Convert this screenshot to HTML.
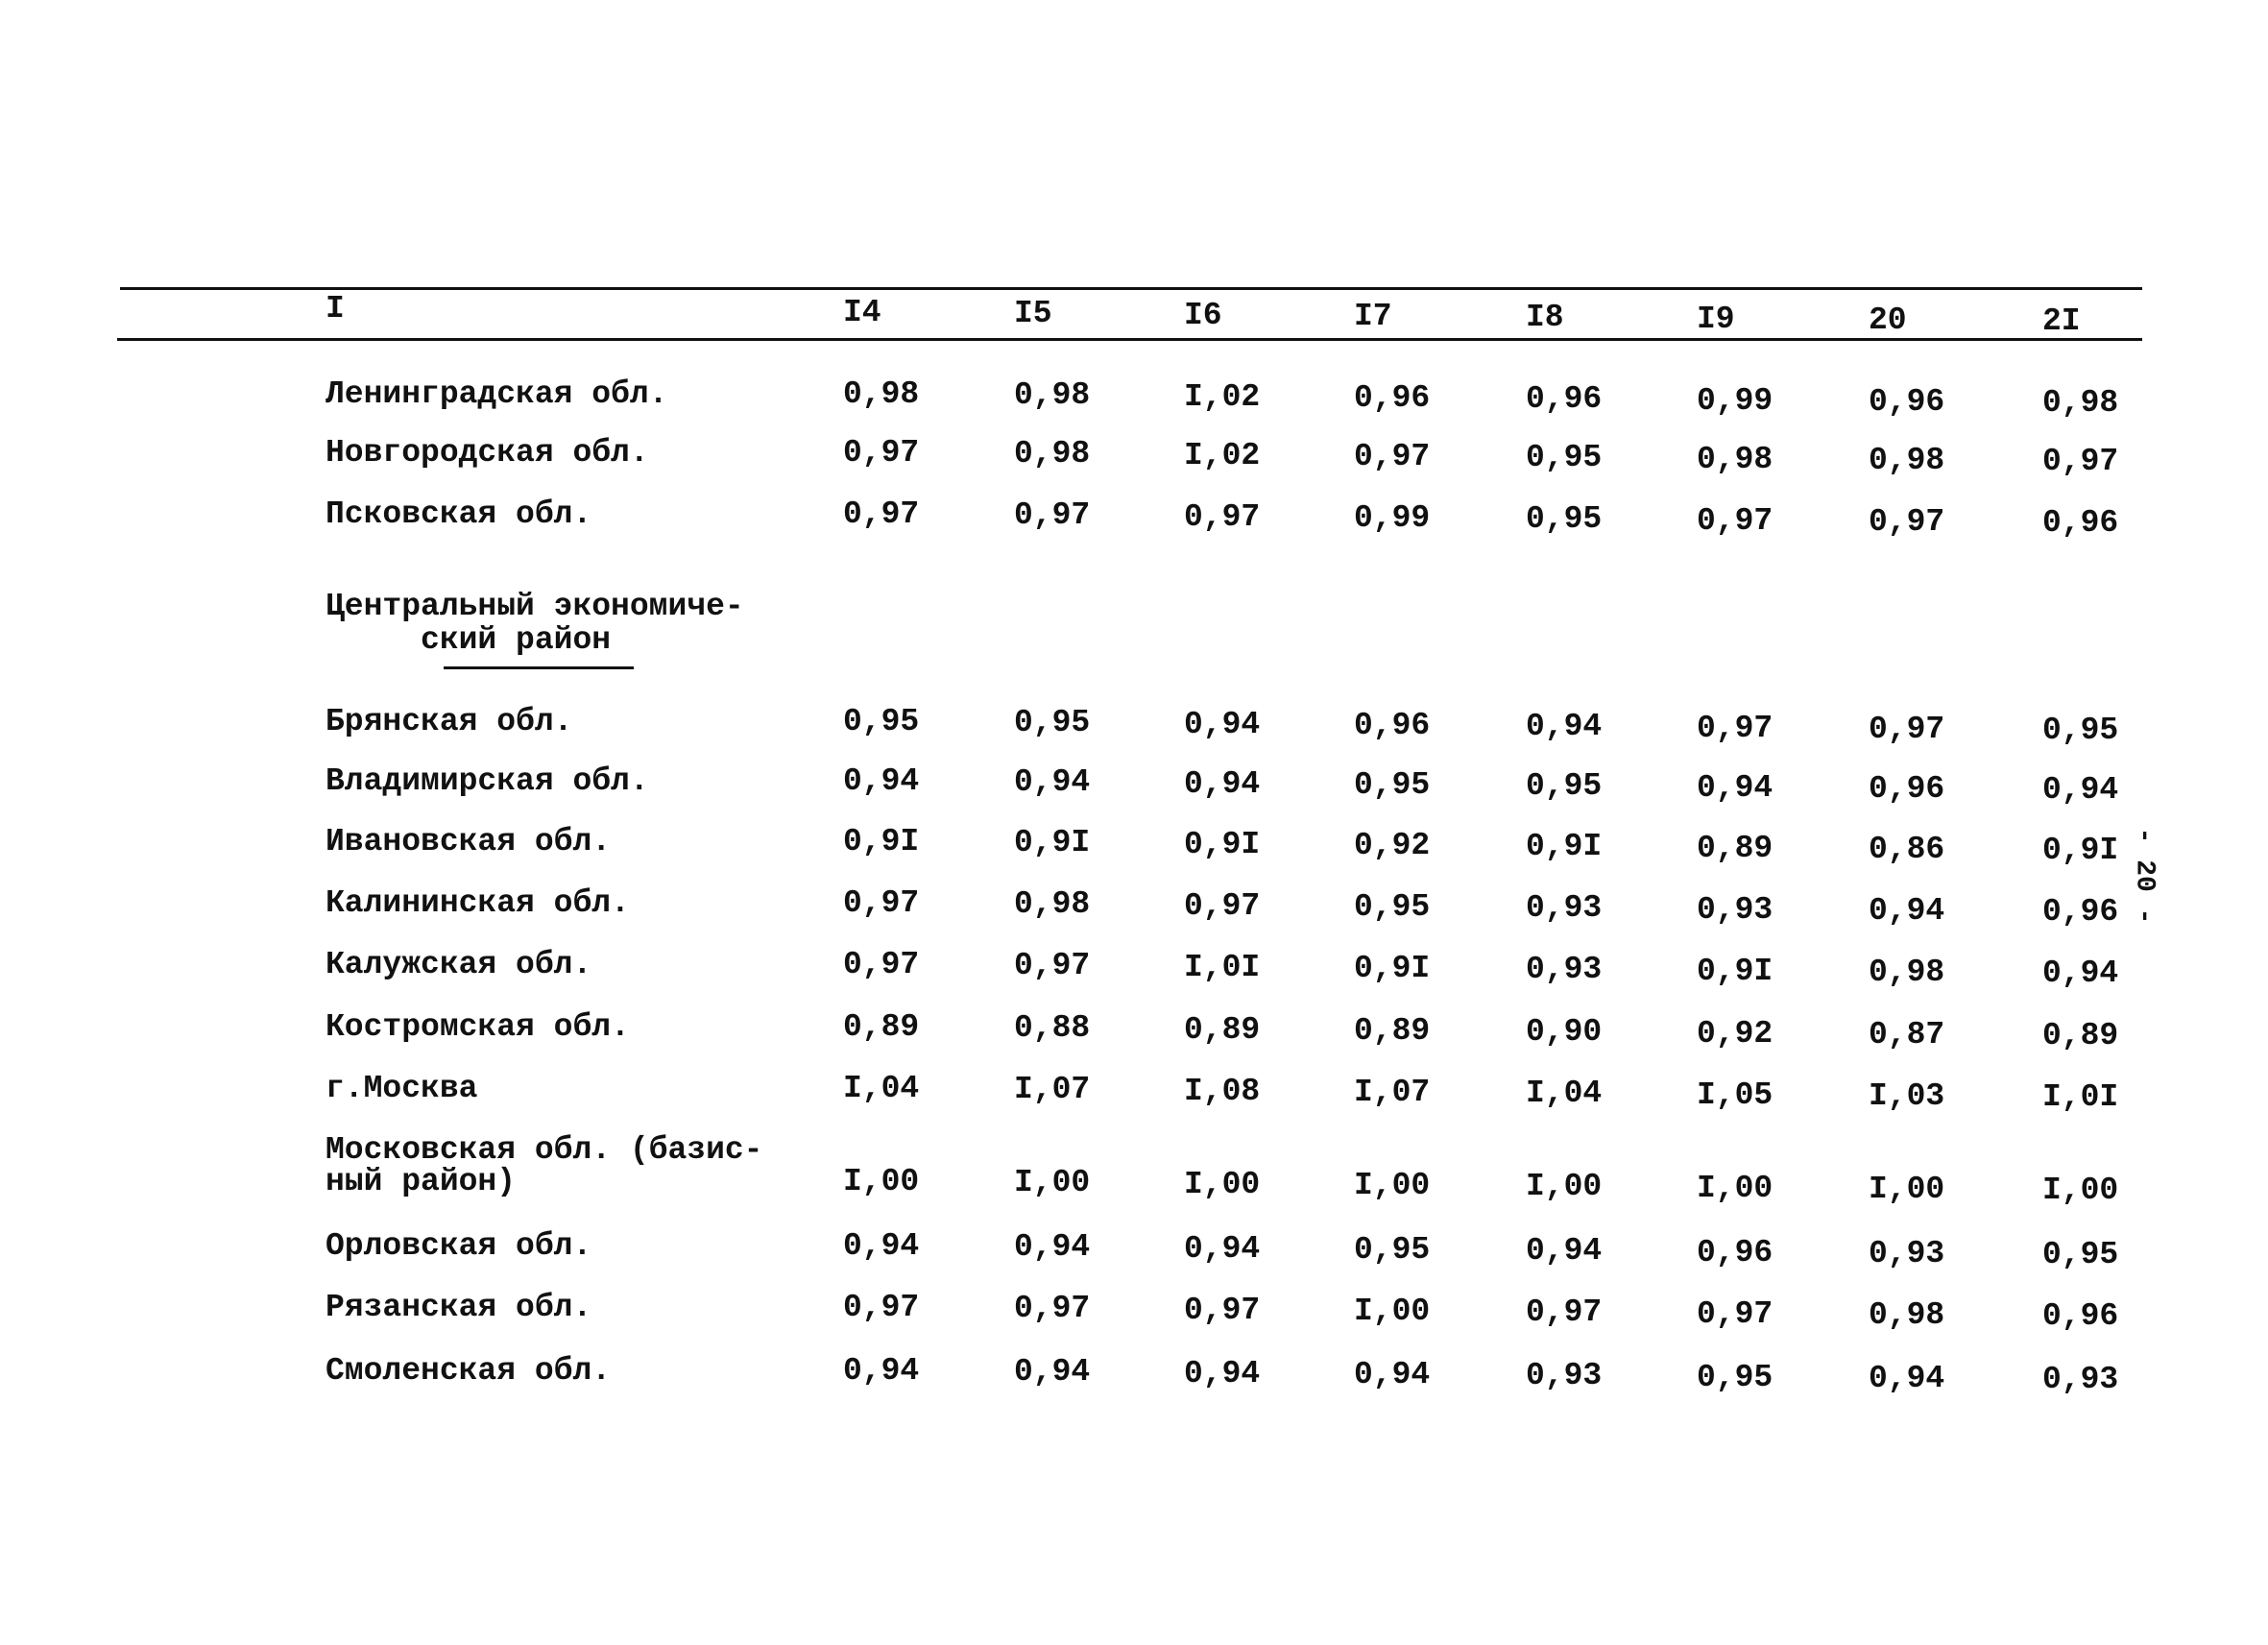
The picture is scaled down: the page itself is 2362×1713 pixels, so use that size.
<!DOCTYPE html>
<html><head><meta charset="utf-8"><style>
body{margin:0;width:2362px;height:1713px;background:#fff;position:relative;overflow:hidden;font-family:"Liberation Mono","DejaVu Sans Mono",monospace;font-weight:bold;font-size:33px;color:#111}
.t{position:absolute;line-height:34px;white-space:pre}
.l{position:absolute;background:#111}
</style></head><body>
<div class="l" style="left:125px;top:299px;width:2106px;height:3px"></div>
<div class="l" style="left:122px;top:352px;width:2109px;height:3px"></div>
<div class="l" style="left:462px;top:694px;width:198px;height:3px"></div>
<div class="t" style="left:339px;top:305px">I</div>
<div id="c"></div>
<div class="t" style="left:2182px;top:895px;transform:rotate(90deg);font-size:28px">- 20 -</div>
<script>
var cols=[878,1056,1233,1410,1589,1767,1946,2127];
var h=["I4","I5","I6","I7","I8","I9","20","2I"];
var out="";
h.forEach(function(s,i){out+='<div class="t" style="left:'+cols[i]+'px;top:'+(309+i*1.3)+'px">'+s+'</div>';});
var rows=[
["Ленинградская обл.",411,["0,98","0,98","I,02","0,96","0,96","0,99","0,96","0,98"]],
["Новгородская обл.",472,["0,97","0,98","I,02","0,97","0,95","0,98","0,98","0,97"]],
["Псковская обл.",536,["0,97","0,97","0,97","0,99","0,95","0,97","0,97","0,96"]],
["Центральный экономиче-",632,null],
["     ский район",667,null],
["Брянская обл.",752,["0,95","0,95","0,94","0,96","0,94","0,97","0,97","0,95"]],
["Владимирская обл.",814,["0,94","0,94","0,94","0,95","0,95","0,94","0,96","0,94"]],
["Ивановская обл.",877,["0,9I","0,9I","0,9I","0,92","0,9I","0,89","0,86","0,9I"]],
["Калининская обл.",941,["0,97","0,98","0,97","0,95","0,93","0,93","0,94","0,96"]],
["Калужская обл.",1005,["0,97","0,97","I,0I","0,9I","0,93","0,9I","0,98","0,94"]],
["Костромская обл.",1070,["0,89","0,88","0,89","0,89","0,90","0,92","0,87","0,89"]],
["г.Москва",1134,["I,04","I,07","I,08","I,07","I,04","I,05","I,03","I,0I"]],
["Московская обл. (базис-",1198,null],
["ный район)",1231,["I,00","I,00","I,00","I,00","I,00","I,00","I,00","I,00"]],
["Орловская обл.",1298,["0,94","0,94","0,94","0,95","0,94","0,96","0,93","0,95"]],
["Рязанская обл.",1362,["0,97","0,97","0,97","I,00","0,97","0,97","0,98","0,96"]],
["Смоленская обл.",1428,["0,94","0,94","0,94","0,94","0,93","0,95","0,94","0,93"]]
];
rows.forEach(function(r){
 out+='<div class="t" style="left:339px;top:'+(r[1]-17)+'px">'+r[0]+'</div>';
 if(r[2]) r[2].forEach(function(v,i){out+='<div class="t" style="left:'+cols[i]+'px;top:'+(r[1]-17+i*1.3)+'px">'+v+'</div>';});
});
document.getElementById("c").innerHTML=out;
</script>
</body></html>
